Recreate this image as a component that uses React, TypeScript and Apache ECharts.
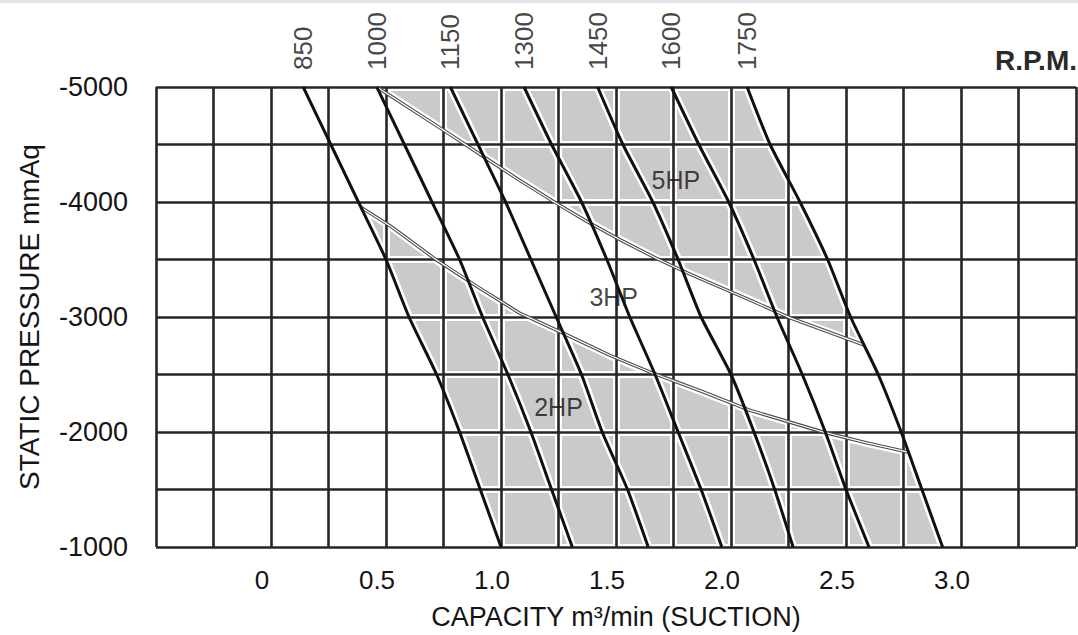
import React, { useEffect, useRef } from "react";
import * as echarts from "echarts";

// ---- data ----
const pressure = [-5000, -4500, -4000, -3500, -3000, -2500, -2000, -1500, -1000];
const rpmNames = ["850", "1000", "1150", "1300", "1450", "1600", "1750"];
const rpm850 = [0.14, 0.26, 0.38, 0.5, 0.6, 0.72, 0.82, 0.91, 1.0];
const rpm1000 = [0.46, 0.58, 0.7, 0.82, 0.92, 1.03, 1.13, 1.22, 1.31];
const rpm1150 = [0.78, 0.9, 1.02, 1.13, 1.24, 1.35, 1.44, 1.55, 1.64];
const rpm1300 = [1.1, 1.22, 1.35, 1.46, 1.56, 1.67, 1.77, 1.87, 1.96];
const rpm1450 = [1.42, 1.53, 1.66, 1.77, 1.87, 2.0, 2.1, 2.19, 2.27];
const rpm1600 = [1.74, 1.86, 1.99, 2.1, 2.2, 2.31, 2.41, 2.5, 2.6];
const rpm1750 = [2.07, 2.17, 2.3, 2.42, 2.52, 2.64, 2.74, 2.83, 2.92];
const rpmCurves = [rpm850, rpm1000, rpm1150, rpm1300, rpm1450, rpm1600, rpm1750];

// power limit curves (boundary 5HP/3HP and 3HP/2HP)
const hpUpperX = [0.46, 0.75, 0.92, 1.08, 1.24, 1.37, 1.52, 1.69, 1.83, 2.08, 2.26, 2.58];
const hpUpperY = [-5000, -4625, -4400, -4190, -3990, -3835, -3670, -3495, -3365, -3150, -2990, -2755];
const hpLowerX = [0.39, 0.52, 0.72, 0.9, 1.08, 1.27, 1.47, 1.65, 1.87, 2.08, 2.4, 2.59, 2.77];
const hpLowerY = [-3955, -3790, -3495, -3260, -3035, -2860, -2670, -2520, -2355, -2190, -2000, -1905, -1825];

const hpLabels = ["5HP", "3HP", "2HP"];
const hpLabelX = [1.76, 1.49, 1.25];
const hpLabelY = [-4190, -3175, -2215];

const xTickValues = [0, 0.5, 1.0, 1.5, 2.0, 2.5, 3.0];
const yTickValues = [-5000, -4000, -3000, -2000, -1000];

const FONT = '"Liberation Sans", Arial, Helvetica, sans-serif';
const TEXT = "#161414";
const GRID = "#2a2424";
const CURVE = "#111111";
const GRAY = "#cacaca";

const pts = (xs: number[], ys: number[]) => xs.map((x, i) => [x, ys[i]]);

// gray regions built from the curves
const upperEnd = hpUpperY[hpUpperY.length - 1];
const upperRegion = [
  ...pts(hpUpperX, hpUpperY),
  ...pts(rpm1750, pressure).filter((p) => p[1] < upperEnd).reverse(),
];
const lowerStart = hpLowerY[0];
const lowerEnd = hpLowerY[hpLowerY.length - 1];
const lowerRegion = [
  ...pts(hpLowerX, hpLowerY),
  ...pts(rpm1750, pressure).filter((p) => p[1] > lowerEnd),
  ...pts(rpm850, pressure).filter((p) => p[1] > lowerStart).reverse(),
];
const grayRegions = [upperRegion, lowerRegion];

function buildOption(): any {
  const series: any[] = [];

  series.push({
    type: "custom",
    coordinateSystem: "cartesian2d",
    z: 1,
    silent: true,
    data: grayRegions.map((_, i) => [i, -3000]),
    renderItem: (params: any, api: any) => ({
      type: "polygon",
      shape: { points: grayRegions[params.dataIndex].map((p) => api.coord(p)) },
      style: { fill: GRAY },
    }),
  });

  // white halos under curves
  rpmCurves.forEach((c) => {
    series.push({
      type: "line",
      data: pts(c, pressure),
      showSymbol: false,
      silent: true,
      smooth: 0.2,
      z: 3,
      lineStyle: { color: "#ffffff", width: 8 },
    });
  });
  [pts(hpUpperX, hpUpperY), pts(hpLowerX, hpLowerY)].forEach((d) => {
    series.push({
      type: "line",
      data: d,
      showSymbol: false,
      silent: true,
      z: 3,
      lineStyle: { color: "#ffffff", width: 8 },
    });
    series.push({
      type: "line",
      data: d,
      showSymbol: false,
      silent: true,
      z: 10,
      lineStyle: { color: "#4a4a4a", width: 3.4 },
    });
    series.push({
      type: "line",
      data: d,
      showSymbol: false,
      silent: true,
      z: 11,
      lineStyle: { color: "#ffffff", width: 1.2 },
    });
  });

  rpmCurves.forEach((c, i) => {
    series.push({
      type: "line",
      name: rpmNames[i],
      data: pts(c, pressure),
      showSymbol: false,
      silent: true,
      smooth: 0.2,
      z: 12,
      lineStyle: { color: CURVE, width: 3 },
    });
  });

  // RPM labels at the top of each curve
  series.push({
    type: "scatter",
    symbolSize: 0,
    silent: true,
    z: 13,
    data: rpmCurves.map((c, i) => ({ value: [c[0], pressure[0]], name: rpmNames[i] })),
    label: {
      show: true,
      position: "top",
      distance: 17,
      rotate: 90,
      align: "left",
      verticalAlign: "middle",
      formatter: "{b}",
      fontFamily: FONT,
      fontSize: 26,
      color: TEXT,
    },
  });

  // HP labels
  series.push({
    type: "scatter",
    symbolSize: 0,
    silent: true,
    z: 13,
    data: hpLabels.map((n, i) => ({ value: [hpLabelX[i], hpLabelY[i]], name: n })),
    label: {
      show: true,
      position: "inside",
      formatter: "{b}",
      fontFamily: FONT,
      fontSize: 25,
      color: TEXT,
    },
  });

  const xFmt = (v: number) => {
    const hit = xTickValues.find((t) => Math.abs(t - v) < 1e-9);
    if (hit === undefined) return "";
    return hit === 0 ? "0" : hit.toFixed(1);
  };
  const yFmt = (v: number) => (yTickValues.indexOf(v) >= 0 ? String(v) : "");

  const xBase = { type: "value", min: -0.5, max: 3.5, interval: 0.25, gridIndex: 0 };
  const yBase = { type: "value", min: -5000, max: -1000, interval: 500, inverse: true, gridIndex: 0 };

  return {
    animation: false,
    backgroundColor: "#ffffff",
    textStyle: { fontFamily: FONT },
    grid: { left: 156, top: 87, right: 2, bottom: 88, outerBoundsMode: "none", containLabel: false },
    graphic: [
      { type: "rect", left: 0, top: 0, shape: { width: 1078, height: 3 }, style: { fill: "#dfe5e8" }, silent: true },
      {
        type: "text",
        x: 1077,
        y: 74,
        style: {
          text: "R.P.M.",
          fontFamily: FONT,
          fontSize: 28,
          fontWeight: "bold",
          fill: "#2a2a2a",
          textAlign: "right",
          textVerticalAlign: "bottom",
        },
        silent: true,
      },
    ],
    xAxis: [
      {
        ...xBase,
        position: "bottom",
        z: 5,
        name: "CAPACITY m³/min (SUCTION)",
        nameLocation: "middle",
        nameGap: 56,
        nameTextStyle: { fontFamily: FONT, fontSize: 27, color: TEXT },
        axisLine: { show: false },
        axisTick: { show: false },
        axisLabel: {
          formatter: xFmt,
          margin: 20,
          fontFamily: FONT,
          fontSize: 26,
          color: TEXT,
          padding: [0, 18, 0, 0],
          showMinLabel: true,
          showMaxLabel: true,
        },
        splitLine: { show: true, lineStyle: { color: GRID, width: 2.6 } },
      },
      {
        ...xBase,
        position: "top",
        z: 3,
        axisLine: { show: false },
        axisTick: { show: false },
        axisLabel: { show: false },
        splitLine: { show: true, lineStyle: { color: "#ffffff", width: 7 } },
      },
    ],
    yAxis: [
      {
        ...yBase,
        position: "left",
        z: 5,
        name: "STATIC PRESSURE mmAq",
        nameLocation: "middle",
        nameGap: 113,
        nameRotate: 90,
        nameTextStyle: { fontFamily: FONT, fontSize: 28, color: TEXT },
        axisLine: { show: false },
        axisTick: { show: false },
        axisLabel: {
          formatter: yFmt,
          margin: 28,
          fontFamily: FONT,
          fontSize: 27,
          color: TEXT,
          showMinLabel: true,
          showMaxLabel: true,
        },
        splitLine: { show: true, lineStyle: { color: GRID, width: 2.6 } },
      },
      {
        ...yBase,
        position: "right",
        z: 3,
        axisLine: { show: false },
        axisTick: { show: false },
        axisLabel: { show: false },
        splitLine: { show: true, lineStyle: { color: "#ffffff", width: 7 } },
      },
    ],
    series,
  };
}

export default function App() {
  const ref = useRef<HTMLDivElement>(null);
  useEffect(() => {
    if (!ref.current) return;
    const chart = echarts.init(ref.current, null, { renderer: "svg" });
    chart.setOption(buildOption());
    return () => chart.dispose();
  }, []);
  return (
    <div
      ref={ref}
      style={{ position: "absolute", left: 0, top: 0, width: 1078, height: 635, background: "#ffffff" }}
    />
  );
}
